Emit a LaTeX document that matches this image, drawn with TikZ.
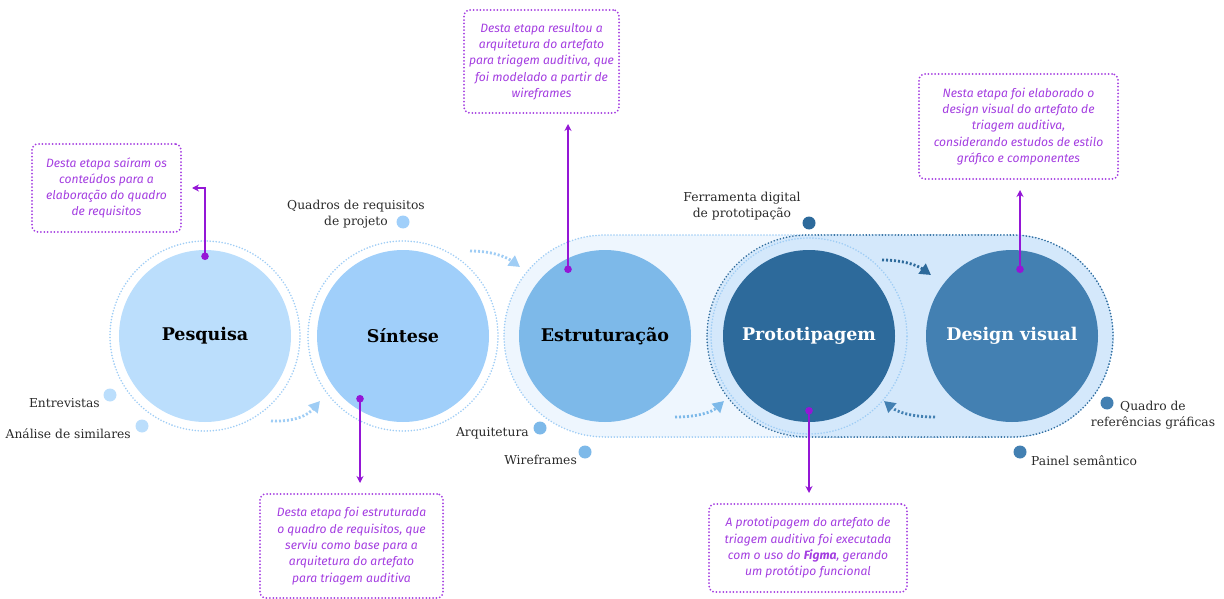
\documentclass[tikz,border=0pt]{standalone}
\usepackage{fontspec}
\setmainfont{DejaVu Serif}
\newfontfamily\notefont{Fira Sans}
\usetikzlibrary{arrows.meta}

\definecolor{cPesq}{HTML}{BBDEFC}
\definecolor{cSint}{HTML}{A0CFFA}
\definecolor{cEstr}{HTML}{7DB9E9}
\definecolor{cProt}{HTML}{2D6A9B}
\definecolor{cDesi}{HTML}{4380B2}
\definecolor{pillLight}{HTML}{EEF6FE}
\definecolor{pillDark}{HTML}{D4E8FB}
\definecolor{ringLight}{HTML}{9FCDF5}
\definecolor{notePurple}{HTML}{A33DE0}
\definecolor{lineViolet}{HTML}{9416D6}
\definecolor{labelGray}{HTML}{2B2B2B}

\tikzset{
  stage/.style={circle, minimum size=172pt, inner sep=0pt,
    font=\bfseries\fontsize{17.5}{20}\selectfont},
  ring/.style={circle, inner sep=0pt, line width=1.8pt, line cap=round,
    dash pattern=on 0pt off 3pt},
  flow/.style={line width=2.8pt, dash pattern=on 2pt off 2pt,
    -{Triangle[length=11pt,width=12pt]}},
  item/.style={circle, inner sep=0pt, minimum size=13pt},
  tag/.style={text=labelGray, font=\fontsize{12.3}{16}\selectfont, inner sep=0pt, align=center},
  note/.style={draw=notePurple, rounded corners=6pt, line width=2pt, line cap=round,
    dash pattern=on 0pt off 3.4pt, text=notePurple, align=center, inner sep=0pt,
    font=\notefont\itshape\fontsize{12.1}{16.3}\selectfont},
  link/.style={draw=lineViolet, line width=1.4pt,
    {Circle[length=7.5pt]}-{Stealth[length=7pt,width=7pt]}, shorten >=10pt},
}

\begin{document}
\begin{tikzpicture}[x=1pt, y=-1pt]
\useasboundingbox (0,0) rectangle (1224,599);

% background bands behind the last three stages
\fill[pillLight] (504,235) [rounded corners=101pt] rectangle (1113,437);
\draw[ringLight, line width=1.8pt, line cap=round, dash pattern=on 0pt off 3pt]
  (504,235) [rounded corners=101pt] rectangle (1113,437);
\fill[pillDark] (707,235) [rounded corners=101pt] rectangle (1113,437);
\draw[cProt, line width=1.8pt, line cap=round, dash pattern=on 0pt off 3.2pt]
  (707,235) [rounded corners=101pt] rectangle (1113,437);

% outer rings
\node[ring, draw=ringLight, minimum size=190pt] (pesqRing) at (205,336) {};
\node[ring, draw=ringLight, minimum size=190pt] (sintRing) at (403,336) {};
\node[ring, draw=ringLight, minimum size=196pt] (protRing) at (809,336) {};

% stages
\node[stage, fill=cPesq] (pesq) at (205,336) {Pesquisa};
\node[stage, fill=cSint] (sint) at (403,336) {Síntese};
\node[stage, fill=cEstr] (estr) at (605,336) {Estruturação};
\node[stage, fill=cProt, text=white] (prot) at (809,336) {Prototipagem};
\node[stage, fill=cDesi, text=white] (desi) at (1012,336) {Design visual};

% flow arrows between stages
\coordinate (f1a) at (271,421); \coordinate (f1b) at (320,401);
\coordinate (f2a) at (470,251); \coordinate (f2b) at (520,267);
\coordinate (f3a) at (675,417); \coordinate (f3b) at (724,401);
\coordinate (f4a) at (882,260); \coordinate (f4b) at (931,275);
\coordinate (f5a) at (935,417); \coordinate (f5b) at (884,401);
\draw[flow, ringLight] (f1a) .. controls (295,422) and (308,415) .. (f1b);
\draw[flow, ringLight] (f2a) .. controls (490,251) and (505,256) .. (f2b);
\draw[flow, cEstr]     (f3a) .. controls (698,417) and (712,412) .. (f3b);
\draw[flow, cProt]     (f4a) .. controls (902,260) and (917,265) .. (f4b);
\draw[flow, cDesi]     (f5a) .. controls (912,417) and (897,412) .. (f5b);

% inputs of each stage
\node[item, fill=cPesq] (iEntr) at (110,395) {};
\node[tag, anchor=east] (tEntr) at (100,403) {Entrevistas};
\node[item, fill=cPesq] (iAnal) at (142,426) {};
\node[tag, anchor=east] (tAnal) at (131,434) {Análise de similares};
\node[item, fill=cSint] (iQuad) at (403,222) {};
\node[tag] (tQuad) at (356,214) {Quadros de requisitos\\de projeto};
\node[item, fill=cEstr] (iArq) at (540,428) {};
\node[tag, anchor=east] (tArq) at (529,433) {Arquitetura};
\node[item, fill=cEstr] (iWire) at (585,452) {};
\node[tag, anchor=east] (tWire) at (577,460) {Wireframes};
\node[item, fill=cProt] (iFerr) at (809,223) {};
\node[tag] (tFerr) at (742,206) {Ferramenta digital\\de prototipação};
\node[item, fill=cDesi] (iRef) at (1107,403) {};
\node[tag] (tRef) at (1153,415) {Quadro de\\referências gráficas};
\node[item, fill=cDesi] (iPain) at (1020,452) {};
\node[tag, anchor=west] (tPain) at (1031,461) {Painel semântico};

% notes
\node[note, minimum width=149pt, minimum height=88pt] (n1) at (106.5,188)
  {Desta etapa saíram os\\conteúdos para a\\elaboração do quadro\\de requisitos};
\node[note, minimum width=155pt, minimum height=103pt] (n2) at (541.5,61.5)
  {Desta etapa resultou a\\arquitetura do artefato\\para triagem auditiva, que\\foi modelado a partir de\\wireframes};
\node[note, minimum width=199pt, minimum height=105pt] (n3) at (1018.5,126.5)
  {Nesta etapa foi elaborado o\\design visual do artefato de\\triagem auditiva,\\considerando estudos de estilo\\gráfico e componentes};
\node[note, minimum width=183pt, minimum height=104pt] (n4) at (351.5,546)
  {Desta etapa foi estruturada\\o quadro de requisitos, que\\serviu como base para a\\arquitetura do artefato\\para triagem auditiva};
\node[note, minimum width=198pt, minimum height=88pt] (n5) at (808,548)
  {A prototipagem do artefato de\\triagem auditiva foi executada\\com o uso do \textbf{Figma}, gerando\\um protótipo funcional};

% links from stages to notes
\coordinate (d1) at (205,260);
\coordinate (d2) at (568,273);
\coordinate (d3) at (1020,273);
\coordinate (d4) at (360,395);
\coordinate (d5) at (809,407);
\draw[link] (d1) |- (n1.east);
\draw[link] (d2) -- (d2 |- n2.south);
\draw[link] (d3) -- (d3 |- n3.south);
\draw[link] (d4) -- (d4 |- n4.north);
\draw[link] (d5) -- (d5 |- n5.north);
\end{tikzpicture}
\end{document}
